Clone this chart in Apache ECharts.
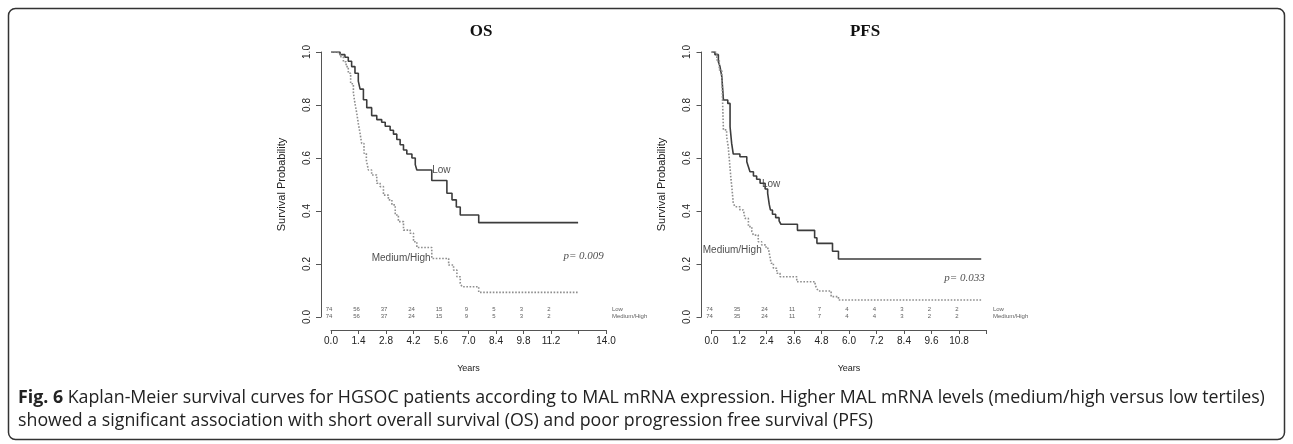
<!DOCTYPE html>
<html>
<head>
<meta charset="utf-8">
<script src="https://cdn.jsdelivr.net/npm/echarts@6/dist/echarts.min.js"></script>
<style>
html,body{margin:0;padding:0;background:#fff;}
#chart{width:1293px;height:444px;}
</style>
</head>
<body>
<div id="chart"></div>
<script>
// ---------- DATA ----------
const osLow = [[0,1],[0.46,0.99],[0.71,0.98],[0.88,0.965],[1.05,0.945],[1.22,0.92],[1.39,0.89],[1.48,0.86],[1.65,0.82],[1.82,0.79],[2.07,0.76],[2.33,0.745],[2.58,0.735],[2.76,0.72],[3.01,0.705],[3.18,0.69],[3.35,0.67],[3.52,0.65],[3.69,0.63],[3.86,0.615],[4.12,0.6],[4.29,0.575],[4.37,0.555],[5.13,0.515],[5.9,0.467],[6.16,0.442],[6.38,0.415],[6.58,0.385],[7.52,0.356],[12.58,0.356]];
const osMed = [[0,1],[0.29,0.995],[0.46,0.982],[0.63,0.963],[0.77,0.945],[0.88,0.92],[1.0,0.88],[1.14,0.845],[1.22,0.806],[1.31,0.77],[1.39,0.73],[1.48,0.693],[1.56,0.655],[1.68,0.618],[1.8,0.592],[1.9,0.555],[2.07,0.536],[2.33,0.505],[2.5,0.492],[2.67,0.46],[2.92,0.442],[3.1,0.423],[3.27,0.385],[3.43,0.36],[3.69,0.328],[4.03,0.316],[4.2,0.284],[4.37,0.262],[5.13,0.221],[5.99,0.196],[6.24,0.177],[6.41,0.152],[6.58,0.127],[6.67,0.114],[7.52,0.093],[12.58,0.093]];
const pfsLow = [[0,1],[0.15,0.99],[0.3,0.963],[0.37,0.945],[0.45,0.907],[0.49,0.857],[0.52,0.819],[0.71,0.806],[0.81,0.718],[0.88,0.655],[0.95,0.615],[1.24,0.605],[1.54,0.586],[1.61,0.567],[1.68,0.548],[1.83,0.532],[1.97,0.52],[2.12,0.505],[2.34,0.483],[2.45,0.467],[2.52,0.425],[2.57,0.404],[2.66,0.388],[2.8,0.375],[2.95,0.363],[3.03,0.35],[3.75,0.327],[4.5,0.299],[4.6,0.278],[5.28,0.248],[5.54,0.219],[11.77,0.219]];
const pfsMed = [[0,1],[0.23,0.97],[0.34,0.932],[0.45,0.894],[0.47,0.857],[0.49,0.794],[0.52,0.706],[0.66,0.68],[0.73,0.643],[0.78,0.592],[0.85,0.52],[0.9,0.479],[0.95,0.429],[1.03,0.416],[1.24,0.404],[1.39,0.397],[1.46,0.372],[1.61,0.341],[1.76,0.322],[1.83,0.309],[2.04,0.284],[2.19,0.272],[2.38,0.259],[2.48,0.253],[2.55,0.228],[2.6,0.203],[2.7,0.184],[2.85,0.165],[2.99,0.152],[3.72,0.133],[4.52,0.121],[4.59,0.108],[4.66,0.098],[5.22,0.077],[5.54,0.064],[11.8,0.063]];

const osRiskTimes = [0,1.4,2.8,4.2,5.6,7.0,8.4,9.8,11.2];
const osRiskLow = [74,56,37,24,15,9,5,3,2];
const osRiskMed = [74,56,37,24,15,9,5,3,2];
const pfsRiskTimes = [0,1.2,2.4,3.6,4.8,6.0,7.2,8.4,9.6,10.8];
const pfsRiskLow = [74,35,24,11,7,4,4,3,2,2];
const pfsRiskMed = [74,35,24,11,7,4,4,3,2,2];

const groupNames = ['Low','Medium/High'];
const panelTitles = ['OS','PFS'];
const pValues = ['p= 0.009','p= 0.033'];
const axisXName = 'Years';
const axisYName = 'Survival Probability';
const captionBold = 'Fig. 6';
const captionLine1 = ' Kaplan-Meier survival curves for HGSOC patients according to MAL mRNA expression. Higher MAL mRNA levels (medium/high versus low tertiles)';
const captionLine2 = 'showed a significant association with short overall survival (OS) and poor progression free survival (PFS)';

// ---------- CHART ----------
const SANS = '"Liberation Sans", Arial, sans-serif';
const SERIF = '"Liberation Serif", "Times New Roman", serif';
const CAP = '"Open Sans", sans-serif';
const AX = '#555';

function makeX(idx, max, interval, hideVal){
  return {
    gridIndex: idx, type:'value', min:0, max:max, interval:interval, offset:13,
    axisLine:{show:true, onZero:false, lineStyle:{color:AX, width:1}},
    axisTick:{show:true, length:4, lineStyle:{color:AX}},
    axisLabel:{fontSize:10, color:'#222', margin:6, fontFamily:SANS, showMaxLabel:true, showMinLabel:true,
      formatter: v => Math.abs(v-hideVal) < 1e-6 ? '' : v.toFixed(1)},
    splitLine:{show:false},
    name: axisXName, nameLocation:'middle', nameGap:34,
    nameTextStyle:{fontSize:9, color:'#222', fontFamily:SANS}
  };
}
function makeY(idx){
  return {
    gridIndex: idx, type:'value', min:0, max:1, interval:0.2, offset:10,
    axisLine:{show:true, onZero:false, lineStyle:{color:AX, width:1}},
    axisTick:{show:true, length:5, lineStyle:{color:AX}},
    axisLabel:{rotate:90, fontSize:10, color:'#222', margin:9, fontFamily:SANS, formatter: v => v.toFixed(1)},
    splitLine:{show:false},
    name: axisYName, nameLocation:'middle', nameRotate:90, nameGap:34,
    nameTextStyle:{fontSize:11, color:'#222', fontFamily:SANS}
  };
}
function km(idx, data, solid){
  return {
    type:'line', xAxisIndex:idx, yAxisIndex:idx, data:data, step:'end', showSymbol:false, symbol:'none',
    animation:false, silent:true,
    lineStyle: solid ? {color:'#3c3c3c', width:1.6, type:'solid'} : {color:'#8e8e8e', width:1.6, type:'dotted'}
  };
}
function labels(idx, items, opts){
  return {
    type:'scatter', xAxisIndex:idx, yAxisIndex:idx, symbolSize:0, clip:false, animation:false, silent:true,
    data: items.map(it => ({value:it.v, name:it.t, label:Object.assign({align:it.a||'left'}, it.o||{})})),
    label: Object.assign({show:true, position:'inside', verticalAlign:'middle', formatter: p => p.name,
      color:'#222', fontSize:10, fontFamily:SANS}, opts||{})
  };
}
function risk(idx, times, low, med, endX){
  const items = [];
  times.forEach((t,i)=>{ items.push({v:[t,0.030], t:String(low[i]), a:'center', o:{offset:[-2,0]}}); });
  times.forEach((t,i)=>{ items.push({v:[t,0.001], t:String(med[i]), a:'center', o:{offset:[-2,0]}}); });
  items.push({v:[endX,0.030], t:groupNames[0], a:'left'});
  items.push({v:[endX,0.001], t:groupNames[1], a:'left'});
  return labels(idx, items, {fontSize:6, color:'#333'});
}

const option = {
  backgroundColor:'#fff',
  animation:false,
  grid:[
    {left:331, top:52, width:275, height:265},
    {left:711.5, top:52, width:275, height:265}
  ],
  xAxis:[ makeX(0, 14, 1.4, 12.6), makeX(1, 12, 1.2, 12.0) ],
  yAxis:[ makeY(0), makeY(1) ],
  series:[
    km(0, osLow, true), km(0, osMed, false),
    km(1, pfsLow, true), km(1, pfsMed, false),
    labels(0, [{v:[5.15,0.552], t:groupNames[0], a:'left'},{v:[5.07,0.221], t:groupNames[1], a:'right'}]),
    labels(1, [{v:[2.2,0.50], t:groupNames[0], a:'left'},{v:[2.19,0.253], t:groupNames[1], a:'right'}]),
    labels(0, [{v:[12.86,0.228], t:pValues[0], a:'center'}], {fontFamily:SERIF, fontStyle:'italic', fontSize:11}),
    labels(1, [{v:[11.04,0.146], t:pValues[1], a:'center'}], {fontFamily:SERIF, fontStyle:'italic', fontSize:11}),
    risk(0, osRiskTimes, osRiskLow, osRiskMed, 14.3),
    risk(1, pfsRiskTimes, pfsRiskLow, pfsRiskMed, 12.28)
  ],
  graphic:[
    {type:'rect', shape:{x:8.5, y:8.5, width:1276, height:431, r:7}, style:{fill:null, stroke:'#333', lineWidth:1.5}, silent:true},
    {type:'text', x:481, y:32, style:{text:panelTitles[0], fontSize:17, fontWeight:'bold', fontFamily:SERIF, fill:'#111', align:'center', verticalAlign:'middle'}},
    {type:'text', x:865, y:32, style:{text:panelTitles[1], fontSize:17, fontWeight:'bold', fontFamily:SERIF, fill:'#111', align:'center', verticalAlign:'middle'}},
    {type:'text', x:18, y:398, style:{text:'{b|'+captionBold+'}'+captionLine1, fontSize:17.8, fontFamily:CAP, fill:'#222', verticalAlign:'middle',
      rich:{b:{fontWeight:'bold', fontSize:17.8, fontFamily:CAP, fill:'#222'}}}},
    {type:'text', x:18, y:421, style:{text:captionLine2, fontSize:17.8, fontFamily:CAP, fill:'#222', verticalAlign:'middle'}}
  ]
};
const chart = echarts.init(document.getElementById('chart'), null, {renderer:'canvas'});
chart.setOption(option);
</script>
</body>
</html>
